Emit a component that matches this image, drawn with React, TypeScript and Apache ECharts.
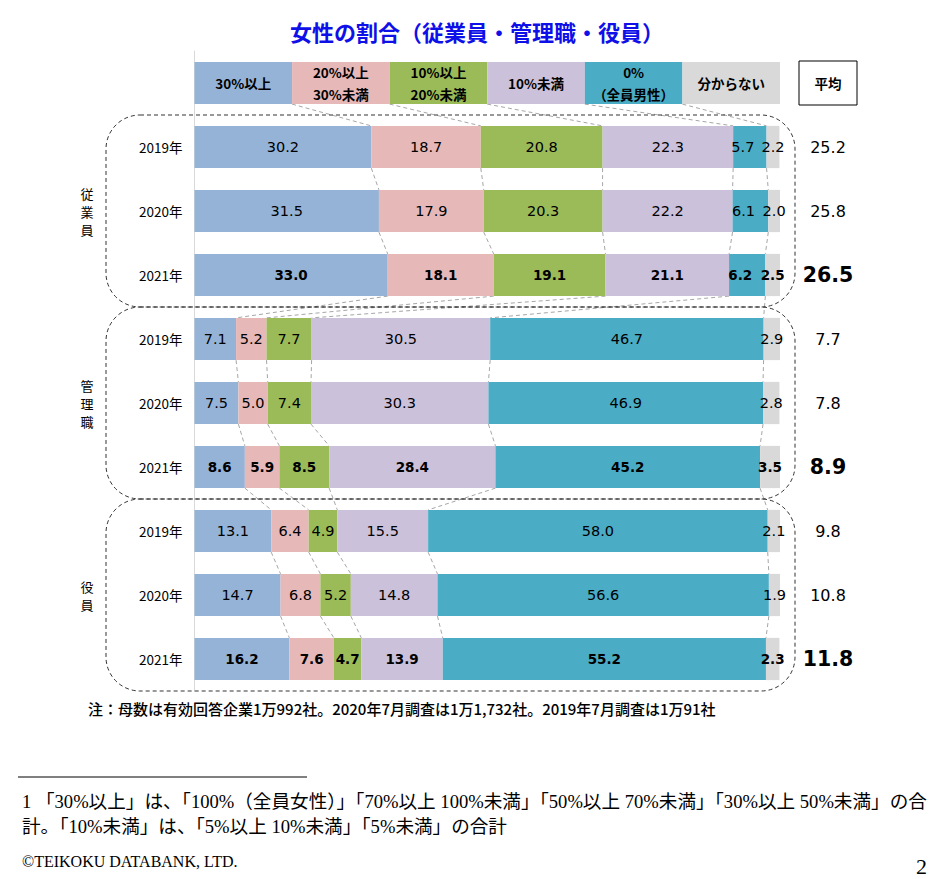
import React, { useEffect, useRef } from 'react';
import * as echarts from 'echarts';

// ---- data ----
const titleText = '女性の割合（従業員・管理職・役員）';
const groups = ['従業員', '管理職', '役員'];
const years = ['2019年', '2020年', '2021年'];
const seriesNames = ['30%以上', '20%以上30%未満', '10%以上20%未満', '10%未満', '0%（全員男性）', '分からない'];
const headerLabels = ['30%以上', '20%以上\n30%未満', '10%以上\n20%未満', '10%未満', '0%\n（全員男性）', '分からない'];
const colors = ['#95B3D7', '#E6B9B8', '#9BBB59', '#CCC1DA', '#4BACC6', '#D9D9D9'];

const over30 = [30.2, 31.5, 33.0, 7.1, 7.5, 8.6, 13.1, 14.7, 16.2];
const from20to30 = [18.7, 17.9, 18.1, 5.2, 5.0, 5.9, 6.4, 6.8, 7.6];
const from10to20 = [20.8, 20.3, 19.1, 7.7, 7.4, 8.5, 4.9, 5.2, 4.7];
const under10 = [22.3, 22.2, 21.1, 30.5, 30.3, 28.4, 15.5, 14.8, 13.9];
const zeroPct = [5.7, 6.1, 6.2, 46.7, 46.9, 45.2, 58.0, 56.6, 55.2];
const unknown = [2.2, 2.0, 2.5, 2.9, 2.8, 3.5, 2.1, 1.9, 2.3];
const averages = [25.2, 25.8, 26.5, 7.7, 7.8, 8.9, 9.8, 10.8, 11.8];
const averageHeader = '平均';

const noteText = '注：母数は有効回答企業1万992社。2020年7月調査は1万1,732社。2019年7月調査は1万91社';
const footnote1 = '1 「30%以上」は、「100%（全員女性）」「70%以上 100%未満」「50%以上 70%未満」「30%以上 50%未満」の合';
const footnote2 = '計。「10%未満」は、「5%以上 10%未満」「5%未満」の合計';
const copyright = '©TEIKOKU DATABANK, LTD.';
const pageNo = '2';

const allSeries = [over30, from20to30, from10to20, under10, zeroPct, unknown];

export default function App() {
  const ref = useRef<HTMLDivElement>(null);
  useEffect(() => {
    if (!ref.current) return;
    const chart = echarts.init(ref.current, null, { renderer: 'svg' });

    const gridTop = 51;
    const rowH = 64;
    const headerShare = 100 / allSeries.length;

    const categories = ['header', ...groups.flatMap((g) => years.map((y) => g + '|' + y))];
    const nRows = categories.length;

    // cumulative boundaries for connectors
    const rowsValues: number[][] = [];
    rowsValues.push(allSeries.map(() => headerShare));
    for (let i = 0; i < over30.length; i++) rowsValues.push(allSeries.map((s) => s[i]));
    const cums = rowsValues.map((vals) => {
      const out: number[] = [];
      let acc = 0;
      for (let k = 0; k < vals.length - 1; k++) {
        acc += vals[k];
        out.push(acc);
      }
      return out;
    });
    const connData: number[][] = [];
    for (let r = 0; r < nRows - 1; r++) {
      for (let k = 0; k < cums[r].length; k++) {
        connData.push([cums[r][k], r, cums[r + 1][k]]);
      }
    }

    const gap = 0.34;
    const mono = 'DejaVu Sans';
    const jp = 'Noto Sans CJK JP';
    const serif = "'Liberation Serif', 'Noto Sans CJK JP'";

    const barSeries = allSeries.map((arr, si) => ({
      type: 'bar',
      name: seriesNames[si],
      stack: 'total',
      barCategoryGap: gap * 100 + '%',
      data: [
        headerShare,
        ...arr.map((v, i) => {
          // a small segment followed by the tiny grey one: nudge its label left
          const next = allSeries[si + 1];
          if (next && v < 10 && next[i] < 3 && si === allSeries.length - 2) {
            return { value: v, label: { offset: [-7, 0] } };
          }
          return v;
        }),
      ],
      itemStyle: { color: colors[si] },
      label: {
        show: true,
        position: 'inside',
        color: '#000',
        textBorderWidth: 0,
        formatter: (p: any) => {
          if (p.dataIndex === 0) {
            return headerLabels[si]
              .split('\n')
              .map((l) => '{h|' + l + '}')
              .join('\n');
          }
          const yearIdx = (p.dataIndex - 1) % years.length;
          const txt = Number(p.value).toFixed(1);
          return yearIdx === years.length - 1 ? '{b|' + txt + '}' : '{n|' + txt + '}';
        },
        rich: {
          h: { fontFamily: jp, fontWeight: 'bold', fontSize: 13.5, lineHeight: 22, color: '#000', align: 'center' },
          n: { fontFamily: mono, fontSize: 14.5, color: '#000' },
          b: { fontFamily: mono, fontSize: 13.5, fontWeight: 'bold', color: '#000' },
        },
      },
      z: 2,
    }));

    const connector = {
      type: 'custom',
      silent: true,
      clip: false,
      z: 1,
      encode: { x: 0, y: 1 },
      data: connData,
      renderItem: (params: any, api: any) => {
        const a = api.value(0);
        const r = api.value(1);
        const b = api.value(2);
        const p1 = api.coord([a, r]);
        const p2 = api.coord([b, r + 1]);
        const band = api.size([0, 1])[1];
        const half = (band * (1 - gap)) / 2;
        return {
          type: 'line',
          shape: { x1: p1[0], y1: p1[1] + half, x2: p2[0], y2: p2[1] - half },
          style: { stroke: '#a6a6a6', lineWidth: 1, lineDash: [4, 3] },
        };
      },
    };

    const graphics: any[] = [];
    const charPitch = 18;
    groups.forEach((g, i) => {
      graphics.push({
        type: 'rect',
        silent: true,
        z: 10,
        shape: { x: 106, y: gridTop + rowH * (1 + 3 * i), width: 689, height: rowH * 3, r: 34 },
        style: { fill: 'none', stroke: '#333', lineWidth: 1, lineDash: [4, 3] },
      });
      const chars = g.split('');
      const cy = gridTop + rowH * (2.5 + 3 * i);
      chars.forEach((ch, k) => {
        graphics.push({
          type: 'text',
          silent: true,
          x: 87,
          y: cy + (k - (chars.length - 1) / 2) * charPitch,
          style: {
            text: ch,
            fontFamily: jp,
            fontSize: 13,
            fill: '#000',
            align: 'center',
            verticalAlign: 'middle',
            textAlign: 'center',
            textVerticalAlign: 'middle',
          },
        });
      });
    });
    graphics.push(
      {
        type: 'text',
        x: 88,
        y: 708,
        style: {
          text: noteText,
          fontFamily: jp,
          fontSize: 15,
          fontWeight: 500,
          fill: '#000',
          verticalAlign: 'middle',
          textVerticalAlign: 'middle',
        },
      },
      {
        type: 'line',
        shape: { x1: 18, y1: 777, x2: 307, y2: 777 },
        style: { stroke: '#000', lineWidth: 1 },
      },
      {
        type: 'text',
        x: 22,
        y: 801,
        style: {
          text: footnote1,
          fontFamily: serif,
          fontSize: 18.6,
          fill: '#000',
          verticalAlign: 'middle',
          textVerticalAlign: 'middle',
        },
      },
      {
        type: 'text',
        x: 22,
        y: 826,
        style: {
          text: footnote2,
          fontFamily: serif,
          fontSize: 18.6,
          fill: '#000',
          verticalAlign: 'middle',
          textVerticalAlign: 'middle',
        },
      },
      {
        type: 'text',
        x: 22,
        y: 861,
        style: {
          text: copyright,
          fontFamily: 'Liberation Serif',
          fontSize: 16,
          fill: '#000',
          verticalAlign: 'middle',
          textVerticalAlign: 'middle',
        },
      },
      {
        type: 'text',
        x: 927,
        y: 866,
        style: {
          text: pageNo,
          fontFamily: 'Liberation Serif',
          fontSize: 22,
          fill: '#000',
          align: 'right',
          textAlign: 'right',
          verticalAlign: 'middle',
          textVerticalAlign: 'middle',
        },
      }
    );

    chart.setOption({
      animation: false,
      backgroundColor: '#fff',
      title: {
        text: titleText,
        left: 472,
        textAlign: 'center',
        top: 15,
        textStyle: { color: '#0f0fe8', fontSize: 22, fontWeight: 'bold', fontFamily: jp },
      },
      grid: { left: 194.5, right: 156, top: gridTop, height: rowH * nRows, containLabel: false },
      xAxis: { type: 'value', min: 0, max: 100, show: false },
      yAxis: [
        {
          type: 'category',
          data: categories,
          inverse: true,
          axisLine: { show: true, lineStyle: { color: '#d9d9d9', width: 1 } },
          axisTick: { show: false },
          axisLabel: {
            margin: 12,
            fontFamily: jp,
            fontSize: 13.5,
            color: '#000',
            formatter: (v: string) => (v === 'header' ? '' : v.split('|')[1]),
          },
        },
        {
          type: 'category',
          data: categories,
          inverse: true,
          position: 'right',
          axisLine: { show: false },
          axisTick: { show: false },
          axisLabel: {
            margin: 48,
            align: 'center',
            formatter: (v: string, idx: number) => {
              if (idx === 0) return '{box|' + averageHeader + '}';
              const yearIdx = (idx - 1) % years.length;
              const txt = averages[idx - 1].toFixed(1);
              return yearIdx === years.length - 1 ? '{b|' + txt + '}' : '{n|' + txt + '}';
            },
            rich: {
              box: {
                width: 58,
                height: 44,
                lineHeight: 44,
                borderColor: '#000',
                borderWidth: 1,
                align: 'center',
                fontFamily: jp,
                fontWeight: 'bold',
                fontSize: 13.5,
                color: '#000',
              },
              n: { fontFamily: mono, fontSize: 16, color: '#000' },
              b: { fontFamily: mono, fontSize: 20.5, fontWeight: 'bold', color: '#000' },
            },
          },
        },
      ],
      series: [...barSeries, connector],
      graphic: graphics,
    });

    return () => chart.dispose();
  }, []);

  return (
    <div
      ref={ref}
      style={{ position: 'fixed', left: 0, top: 0, width: 936, height: 879, background: '#fff' }}
    />
  );
}
